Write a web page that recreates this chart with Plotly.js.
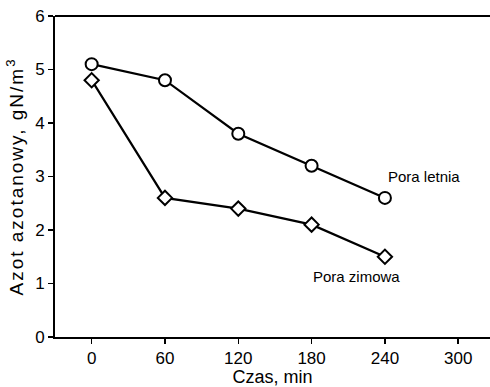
<!DOCTYPE html>
<html>
<head>
<meta charset="utf-8">
<script src="https://cdn.plot.ly/plotly-3.0.1.min.js"></script>
<style>html,body{margin:0;padding:0;background:#fff;overflow:hidden;}#chart{width:490px;height:387px;}
.ytitle{letter-spacing:2px;}</style>
</head>
<body>
<div id="chart"></div>
<script>
const czas = [0, 60, 120, 180, 240];
const poraLetnia = [5.1, 4.8, 3.8, 3.2, 2.6];
const poraZimowa = [4.8, 2.6, 2.4, 2.1, 1.5];
const xTicks = [0, 60, 120, 180, 240, 300];
const yTicks = [0, 1, 2, 3, 4, 5, 6];

const font = "Liberation Sans, Arial, sans-serif";

const traces = [
  {
    x: czas, y: poraLetnia, type: 'scatter', mode: 'lines+markers',
    line: {color: '#000', width: 2.2},
    marker: {symbol: 'circle', size: 12, color: '#fff', line: {color: '#000', width: 2}},
    cliponaxis: false, showlegend: false
  },
  {
    x: czas, y: poraZimowa, type: 'scatter', mode: 'lines+markers',
    line: {color: '#000', width: 2.2},
    marker: {symbol: 'diamond', size: 11, color: '#fff', line: {color: '#000', width: 2}},
    cliponaxis: false, showlegend: false
  }
];

const layout = {
  width: 490, height: 387,
  margin: {l: 55, r: 0, t: 16, b: 50},
  paper_bgcolor: '#fff', plot_bgcolor: '#fff',
  font: {family: font, color: '#000', size: 16},
  xaxis: {
    range: [-30, 326], tickvals: xTicks, ticktext: xTicks.map(String),
    showgrid: false, zeroline: false, showline: true, linecolor: '#000', linewidth: 2,
    ticks: 'outside', ticklen: 5, tickwidth: 1.5, tickcolor: '#000',
    tickfont: {size: 17, family: font},
    title: {text: 'Czas, min', font: {size: 18, family: font}, standoff: 4}
  },
  yaxis: {
    range: [0, 6], tickvals: yTicks, ticktext: yTicks.map(String),
    showgrid: false, zeroline: false, showline: true, linecolor: '#000', linewidth: 2,
    ticks: 'outside', ticklen: 5, tickwidth: 1.5, tickcolor: '#000',
    tickfont: {size: 17, family: font},
    title: {text: 'Azot azotanowy, gN/m<sup>3</sup>', font: {size: 19, family: font}, standoff: 6}
  },
  shapes: [
    {type: 'line', xref: 'paper', yref: 'paper', x0: 0, x1: 1.01, y0: 1, y1: 1,
     line: {color: '#000', width: 2}}
  ],
  annotations: [
    {x: 271.6, y: 3.0, xref: 'x', yref: 'y', text: 'Pora letnia', showarrow: false,
     font: {size: 15, family: font, color: '#000'}},
    {x: 216.5, y: 1.14, xref: 'x', yref: 'y', text: 'Pora zimowa', showarrow: false,
     font: {size: 15, family: font, color: '#000'}}
  ]
};

Plotly.newPlot('chart', traces, layout, {displayModeBar: false, staticPlot: true});
</script>
</body>
</html>
